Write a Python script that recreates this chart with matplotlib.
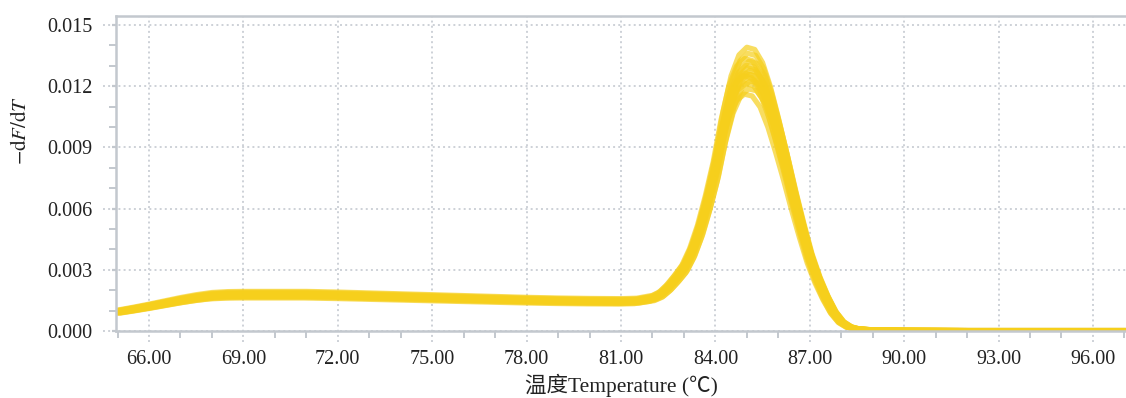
import numpy as np
import matplotlib.pyplot as plt
from matplotlib.ticker import MultipleLocator, FormatStrFormatter

plt.rcParams['font.family'] = ['Liberation Serif', 'Noto Sans CJK SC']
plt.rcParams['mathtext.fontset'] = 'stix'

# melt curve: temperature (°C) and mean -dF/dT (x 1e-3)
temp = [65.0, 65.5, 66.0, 66.5, 67.0, 67.5, 68.0, 68.5, 69.0, 70.0, 71.0, 72.0,
        73.0, 74.0, 75.0, 76.0, 77.0, 78.0, 79.0, 80.0, 81.0, 81.5, 82.0, 82.25,
        82.5, 82.75, 83.0, 83.25, 83.5, 83.75, 84.0, 84.25, 84.5, 84.75, 85.0,
        85.25, 85.5, 85.75, 86.0, 86.25, 86.5, 86.75, 87.0, 87.25, 87.5, 87.75,
        88.0, 88.25, 88.5, 89.0, 90.0, 92.0, 94.0, 96.0, 97.1]
dfdt = [0.95, 1.08, 1.22, 1.37, 1.52, 1.65, 1.75, 1.79, 1.8, 1.8, 1.8, 1.77,
        1.73, 1.69, 1.65, 1.61, 1.57, 1.53, 1.5, 1.48, 1.47, 1.49, 1.62, 1.8,
        2.15, 2.6, 3.1, 3.9, 5.0, 6.4, 8.0, 10.0, 11.6, 12.55, 12.9,
        12.8, 12.2, 11.1, 9.7, 8.2, 6.6, 5.1, 3.7, 2.6, 1.7, 0.95,
        0.45, 0.2, 0.1, 0.05, 0.03, 0.02, 0.02, 0.02, 0.02]
# relative amplitude and Tm offset (°C) of each sample well
well_scale = [0.9, 0.92, 0.94, 0.95, 0.96, 0.97, 0.975, 0.98, 0.99, 1.0,
              1.01, 1.025, 1.035, 1.055, 1.078]
well_shift = [-0.08, 0.06, -0.04, 0.1, 0.0, -0.1, 0.05, -0.06, 0.08, 0.02,
              -0.02, 0.07, -0.07, 0.03, 0.0]

xticks = [66, 69, 72, 75, 78, 81, 84, 87, 90, 93, 96]
yticks = [0.0, 0.003, 0.006, 0.009, 0.012, 0.015]

fig = plt.figure(figsize=(11.26, 3.98), dpi=100)
ax = fig.add_axes([0.103, 0.1683, 0.897, 0.7915])

grid_c = '#cdd1d7'
spine_c = '#c3c8ce'
text_c = '#222222'

for t in xticks:
    ax.axvline(t, ymin=-0.035, ymax=1, color=grid_c, ls=':', lw=1.4,
               clip_on=False, zorder=0)
for v in yticks:
    ax.axhline(v, xmin=-0.013, xmax=1, color=grid_c, ls=':', lw=1.4,
               clip_on=False, zorder=0)

x = np.array(temp)
y = np.array(dfdt) * 1e-3
for s, dx in zip(well_scale, well_shift):
    ax.plot(x + dx, y * s, color='#f6cf1c', lw=3.8, alpha=0.7,
            solid_capstyle='round', solid_joinstyle='round', zorder=2)

ax.set_xlim(64.95, 97.05)
ax.set_ylim(0, 0.01544)
ax.set_xticks(xticks)
ax.set_yticks(yticks)
ax.xaxis.set_major_formatter(FormatStrFormatter('%.2f'))
ax.yaxis.set_major_formatter(FormatStrFormatter('%.3f'))
ax.xaxis.set_minor_locator(MultipleLocator(1))
ax.yaxis.set_minor_locator(MultipleLocator(0.001))

ax.tick_params(axis='x', which='major', length=0, pad=14, labelsize=14.5,
               colors=text_c)
ax.tick_params(axis='y', which='major', length=3, width=1.6, pad=14,
               labelsize=14.5, color=spine_c, labelcolor=text_c)
ax.tick_params(which='minor', length=5, width=1.4, color=spine_c)

ax.spines['right'].set_visible(False)
for side in ['left', 'bottom', 'top']:
    ax.spines[side].set_color(spine_c)
    ax.spines[side].set_linewidth(1.8)

ax.set_xlabel('温度Temperature (℃)', fontsize=15.5, color=text_c, labelpad=3)
ax.set_ylabel(r'$-\mathrm{d}F/\mathrm{d}T$', fontsize=15, color=text_c)
ax.yaxis.set_label_coords(-0.084, 0.635)

fig.savefig('out.png', dpi=100)
